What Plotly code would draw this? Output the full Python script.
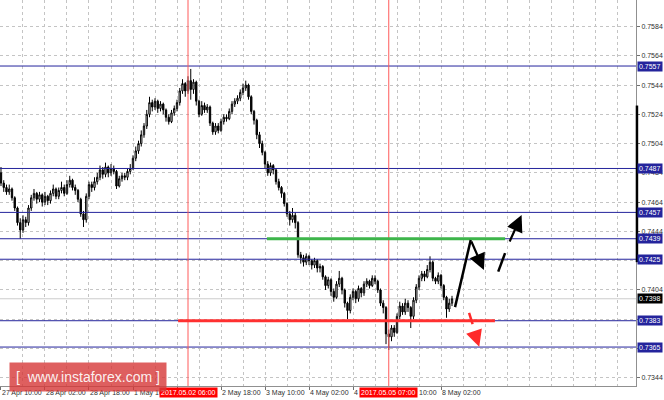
import plotly.graph_objects as go

# ---------------- data (prices in pips, i.e. price * 10000) ----------------
bars = list(range(165))

opens_pips = [
    7484, 7477, 7474, 7471, 7473, 7467, 7460, 7450, 7445, 7452, 7450, 7460, 7467, 7470, 7466, 7469,
    7464, 7468, 7465, 7470, 7473, 7468, 7472, 7474, 7470, 7476, 7479, 7474, 7472, 7466, 7456, 7452,
    7468, 7476, 7474, 7478, 7481, 7486, 7483, 7488, 7484, 7487, 7485, 7475, 7480, 7482, 7481, 7485,
    7487, 7494, 7499, 7504, 7510, 7516, 7524, 7532, 7529, 7533, 7528, 7531, 7527, 7522, 7519, 7525,
    7528, 7532, 7540, 7545, 7540, 7547, 7541, 7546, 7533, 7524, 7530, 7527, 7529, 7518, 7512, 7516,
    7513, 7519, 7522, 7521, 7526, 7531, 7533, 7535, 7539, 7542, 7544, 7536, 7526, 7520, 7510, 7504,
    7498, 7490, 7484, 7489, 7486, 7478, 7474, 7470, 7463, 7456, 7452, 7455, 7450, 7428, 7426, 7423,
    7427, 7424, 7421, 7424, 7419, 7420, 7413, 7407, 7411, 7403, 7399, 7408, 7412, 7404, 7395, 7390,
    7399, 7403, 7398, 7405, 7402, 7408, 7410, 7407, 7412, 7410, 7404, 7395, 7392, 7374, 7372, 7378,
    7375, 7386, 7393, 7389, 7395, 7392, 7386, 7397, 7406, 7412, 7415, 7413, 7418, 7423, 7412, 7410,
    7414, 7407, 7399, 7391, 7395,
]
closes_pips = [
    7477, 7474, 7471, 7473, 7467, 7460, 7450, 7445, 7452, 7450, 7460, 7467, 7470, 7466, 7469, 7464,
    7468, 7465, 7470, 7473, 7468, 7472, 7474, 7470, 7476, 7479, 7474, 7472, 7466, 7456, 7452, 7468,
    7476, 7474, 7478, 7481, 7486, 7483, 7488, 7484, 7487, 7485, 7475, 7480, 7482, 7481, 7485, 7487,
    7494, 7499, 7504, 7510, 7516, 7524, 7532, 7529, 7533, 7528, 7531, 7527, 7522, 7519, 7525, 7528,
    7532, 7540, 7545, 7540, 7547, 7541, 7546, 7533, 7524, 7530, 7527, 7529, 7518, 7512, 7516, 7513,
    7519, 7522, 7521, 7526, 7531, 7533, 7535, 7539, 7542, 7544, 7536, 7526, 7520, 7510, 7504, 7498,
    7490, 7484, 7489, 7486, 7478, 7474, 7470, 7463, 7456, 7452, 7455, 7450, 7428, 7426, 7423, 7427,
    7424, 7421, 7424, 7419, 7420, 7413, 7407, 7411, 7403, 7399, 7408, 7412, 7404, 7395, 7390, 7399,
    7403, 7398, 7405, 7402, 7408, 7410, 7407, 7412, 7410, 7404, 7395, 7392, 7374, 7372, 7378, 7375,
    7386, 7393, 7389, 7395, 7392, 7386, 7397, 7406, 7412, 7415, 7413, 7418, 7423, 7412, 7410, 7414,
    7407, 7399, 7391, 7395, 7398,
]
highs_pips = [
    7488, 7479, 7476, 7476, 7474, 7468, 7461, 7453, 7455, 7454, 7462, 7469, 7473, 7471, 7471, 7470,
    7471, 7469, 7472, 7476, 7474, 7474, 7478, 7476, 7479, 7482, 7480, 7476, 7473, 7467, 7458, 7470,
    7478, 7478, 7481, 7484, 7489, 7488, 7491, 7489, 7490, 7489, 7486, 7482, 7484, 7484, 7487, 7490,
    7496, 7502, 7506, 7513, 7518, 7527, 7536, 7534, 7535, 7534, 7533, 7532, 7528, 7524, 7527, 7530,
    7534, 7542, 7548, 7546, 7550, 7555, 7548, 7547, 7534, 7533, 7532, 7531, 7530, 7519, 7518, 7518,
    7521, 7524, 7524, 7528, 7533, 7535, 7537, 7541, 7545, 7547, 7545, 7537, 7527, 7521, 7512, 7506,
    7499, 7492, 7491, 7490, 7487, 7480, 7475, 7471, 7464, 7458, 7460, 7457, 7451, 7430, 7428, 7429,
    7428, 7425, 7426, 7425, 7422, 7421, 7414, 7413, 7412, 7405, 7410, 7417, 7413, 7405, 7396, 7401,
    7405, 7404, 7407, 7406, 7410, 7412, 7411, 7414, 7414, 7411, 7405, 7397, 7393, 7377, 7380, 7380,
    7388, 7396, 7395, 7398, 7397, 7393, 7399, 7408, 7414, 7417, 7417, 7421, 7427, 7424, 7413, 7416,
    7415, 7408, 7400, 7398, 7400,
]
lows_pips = [
    7475, 7471, 7469, 7469, 7465, 7458, 7448, 7439, 7443, 7447, 7448, 7458, 7465, 7463, 7464, 7461,
    7462, 7462, 7463, 7468, 7466, 7466, 7470, 7468, 7469, 7474, 7472, 7469, 7464, 7454, 7447, 7450,
    7466, 7471, 7472, 7476, 7479, 7480, 7481, 7481, 7482, 7483, 7473, 7474, 7478, 7479, 7479, 7483,
    7486, 7492, 7497, 7502, 7508, 7514, 7522, 7526, 7527, 7525, 7526, 7524, 7519, 7517, 7518, 7523,
    7526, 7530, 7538, 7536, 7538, 7534, 7538, 7530, 7522, 7523, 7525, 7525, 7516, 7510, 7510, 7511,
    7512, 7517, 7519, 7520, 7524, 7529, 7531, 7533, 7537, 7540, 7534, 7524, 7517, 7507, 7501, 7496,
    7487, 7482, 7482, 7483, 7476, 7472, 7467, 7461, 7454, 7448, 7450, 7446, 7426, 7422, 7420, 7421,
    7421, 7418, 7419, 7416, 7416, 7411, 7404, 7405, 7400, 7396, 7398, 7406, 7401, 7392, 7384, 7388,
    7397, 7395, 7396, 7399, 7400, 7406, 7405, 7406, 7408, 7402, 7393, 7388, 7367, 7363, 7369, 7372,
    7374, 7384, 7387, 7387, 7389, 7378, 7384, 7395, 7404, 7410, 7410, 7412, 7416, 7410, 7408, 7408,
    7405, 7397, 7385, 7389, 7393,
]

level_prices = [0.7557, 0.7487, 0.7457, 0.7439, 0.7425, 0.7383, 0.7365]
current_price = 0.7398
price_ticks = [0.7344, 0.7364, 0.7384, 0.7404, 0.7424, 0.7444, 0.7464,
               0.7484, 0.7504, 0.7524, 0.7544, 0.7564, 0.7584]
# tick labels fully covered by the level boxes are left blank
price_tick_labels = ["0.7344", "", "", "0.7404", "", "0.7444", "0.7464",
                     "0.7484", "0.7504", "0.7524", "0.7544", "0.7564", "0.7584"]
time_tick_bars = [0, 16, 32, 48, 64, 80, 96, 112, 128, 144, 160]
time_tick_labels = ["27 Apr 10:00", "28 Apr 02:00", "28 Apr 18:00", "1 May 10:00",
                    "2 May 02:00", "2 May 18:00", "3 May 10:00", "4 May 02:00",
                    "4 May 18:00", "5 May 10:00", "8 May 02:00"]
marker_bars = [68, 141]
marker_labels = ["2017.05.02 06:00", "2017.05.05 07:00"]

support_level = 0.7383
resistance_level = 0.7439

PIP = 10000.0
opens = [v / PIP for v in opens_pips]
closes = [v / PIP for v in closes_pips]
highs = [v / PIP for v in highs_pips]
lows = [v / PIP for v in lows_pips]

# ---------------- figure ----------------
fig = go.Figure(go.Candlestick(
    x=bars, open=opens, high=highs, low=lows, close=closes,
    increasing=dict(line=dict(color="black", width=1), fillcolor="white"),
    decreasing=dict(line=dict(color="black", width=1), fillcolor="black"),
    whiskerwidth=0, hoverinfo="skip",
))

FONT = "Liberation Sans, Arial, sans-serif"
GRID = "#c4c4c4"
NAVY = "#24249c"

shapes = []
for p in level_prices:
    shapes.append(dict(type="line", xref="paper", x0=0, x1=1, yref="y", y0=p, y1=p,
                       line=dict(color=NAVY, width=1), layer="above"))
shapes.append(dict(type="line", xref="paper", x0=0, x1=1, yref="y", y0=current_price,
                   y1=current_price, line=dict(color="#cccccc", width=1), layer="below"))
for b in marker_bars:
    shapes.append(dict(type="line", xref="x", x0=b, x1=b, yref="paper", y0=0, y1=1,
                       line=dict(color="#ff5a5a", width=1)))
shapes.append(dict(type="line", xref="x", x0=96.7, x1=183.3, yref="y",
                   y0=resistance_level, y1=resistance_level,
                   line=dict(color="#3db54a", width=3)))
shapes.append(dict(type="line", xref="x", x0=64.4, x1=179.6, yref="y",
                   y0=support_level, y1=support_level,
                   line=dict(color="#ff3030", width=3)))
shapes.append(dict(type="line", xref="paper", x0=1.0015, x1=1.0015, yref="y", y0=0.7423, y1=0.7530,
                   line=dict(color="black", width=2.5)))
shapes.append(dict(type="line", xref="x", yref="y", x0=165.1, y0=0.73923, x1=170.8, y1=0.74381,
                   line=dict(color="black", width=2.5)))
shapes.append(dict(type="line", xref="x", yref="y", x0=180.8, y0=0.74165, x1=183.3, y1=0.74292,
                   line=dict(color="black", width=2.5)))
shapes.append(dict(type="line", xref="x", yref="y", x0=170.2, y0=0.73884, x1=171.5, y1=0.73807,
                   line=dict(color="#ff2a2a", width=2.5)))

annotations = []
for p in level_prices:
    annotations.append(dict(xref="paper", x=1, xanchor="left", xshift=1, yref="y", y=p,
                            text=f"{p:.4f}", showarrow=False, bgcolor=NAVY, borderpad=1,
                            font=dict(family=FONT, size=7, color="white")))
annotations.append(dict(xref="paper", x=1, xanchor="left", xshift=1, yref="y", y=current_price,
                        text=f"{current_price:.4f}", showarrow=False, bgcolor="black", borderpad=1,
                        font=dict(family=FONT, size=7, color="white")))
for b, t in zip(marker_bars, marker_labels):
    annotations.append(dict(xref="x", x=b, xanchor="center", yref="paper", y=-0.018,
                            yanchor="middle", text=t, showarrow=False, bgcolor="#ff0000",
                            borderpad=1, font=dict(family=FONT, size=7, color="white")))
arrow_specs = [
    (175.6, 0.74176, 170.8, 0.74381, "black"),
    (189.3, 0.74552, 184.7, 0.74361, "black"),
    (173.9, 0.73652, 172.0, 0.73759, "#ff2a2a"),
]
for x, y, ax, ay, c in arrow_specs:
    annotations.append(dict(xref="x", yref="y", x=x, y=y, axref="x", ayref="y", ax=ax, ay=ay,
                            text="", showarrow=True, arrowhead=2, arrowsize=1.5,
                            arrowwidth=2.2, arrowcolor=c, standoff=0, startstandoff=0))
annotations.append(dict(xref="paper", yref="paper", x=87.5 / 636, y=(386 - 376.5) / 386,
                        xanchor="center", yanchor="middle",
                        text="[&nbsp;&nbsp;www.instaforex.com&nbsp;]", showarrow=False,
                        bgcolor="rgba(214,55,55,0.80)", borderpad=6,
                        font=dict(family=FONT, size=14, color="rgba(255,255,255,0.92)")))

fig.update_layout(
    width=664, height=400,
    margin=dict(l=0, r=28, t=0, b=14, autoexpand=False),
    paper_bgcolor="white", plot_bgcolor="white",
    showlegend=False,
    font=dict(family=FONT, size=7, color="#303030"),
    shapes=shapes, annotations=annotations,
    xaxis=dict(
        range=[-0.36, 230.9], rangeslider=dict(visible=False),
        tickmode="array", tickvals=time_tick_bars, ticktext=time_tick_labels,
        tickangle=0, automargin=False,
        ticks="outside", ticklen=3, tickcolor="#707070",
        ticklabelposition="outside right",
        showgrid=True, gridcolor=GRID, griddash="3px,3px", gridwidth=1,
        minor=dict(tickmode="linear", tick0=0, dtick=8, showgrid=True, gridcolor=GRID,
                   griddash="3px,3px", ticks=""),
        showline=True, linecolor="#909090", linewidth=1, zeroline=False,
        tickfont=dict(family=FONT, size=7, color="#303030"), fixedrange=True,
    ),
    yaxis=dict(
        side="right", range=[0.73384, 0.76021], automargin=False,
        tickmode="array", tickvals=price_ticks, ticktext=price_tick_labels,
        ticks="outside", ticklen=3, tickcolor="#707070",
        showgrid=True, gridcolor=GRID, griddash="3px,3px", gridwidth=1,
        showline=True, linecolor="#909090", linewidth=1, zeroline=False,
        tickfont=dict(family=FONT, size=7, color="#303030"), fixedrange=True,
    ),
)

fig.write_html("out.html", config={"displayModeBar": False},
               post_script="document.body.style.margin='0';document.body.style.padding='0';")
